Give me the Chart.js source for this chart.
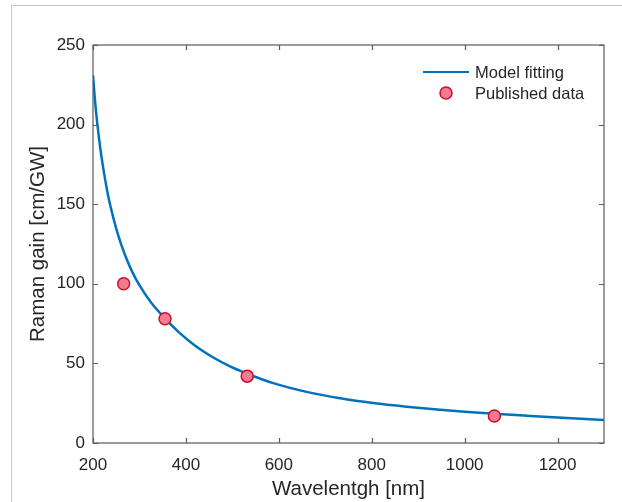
<!DOCTYPE html>
<html>
<head>
<meta charset="utf-8">
<script src="https://cdn.jsdelivr.net/npm/chart.js@4/dist/chart.umd.min.js"></script>
<style>
  html, body { margin: 0; padding: 0; background: #fff; }
  #wrap { position: relative; width: 622px; height: 502px; }
  #frame { position: absolute; left: 11px; top: 5px; right: 0; bottom: 0;
           border-left: 1px solid #c8c8c8; border-top: 1px solid #c8c8c8; }
  canvas { position: absolute; left: 0; top: 0; }
</style>
</head>
<body>
<div id="wrap">
  <div id="frame"></div>
  <canvas id="chart" width="622" height="502"></canvas>
</div>
<script>
// Model fitting curve
const fitWavelength = [200, 204, 209, 216, 224, 231, 238, 250, 261, 273, 285, 298, 325, 355, 387, 420,
                       459, 495, 532, 588, 660, 732, 803, 875, 947, 1000, 1064, 1130, 1200, 1260, 1300];
const fitGain = [231, 216.2, 201.2, 184.4, 169.2, 157.7, 148.2, 134.7, 124.5, 115.1, 107.2, 100.1, 88.2, 78.3, 69, 61.1,
                 53.7, 48.1, 43.5, 37.6, 32.1, 28.1, 25.1, 22.8, 20.9, 19.7, 18.4, 17.2, 16.0, 15.1, 14.5];

// Published data points
const pubWavelength = [266, 355, 532, 1064];
const pubGain = [100, 78, 42, 17];

const xTicks = [200, 400, 600, 800, 1000, 1200];
const yTicks = [0, 50, 100, 150, 200, 250];

const lineColor = '#0072BD';
const axisColor = '#5a5a5a';
const textColor = '#262626';
const fontFamily = '"Liberation Sans", Arial, Helvetica, sans-serif';

// box around the axes with inward ticks on all four sides + legend without frame
const boxPlugin = {
    id: 'matlabBox',
    afterDraw(chart) {
        const { ctx, chartArea: a, scales } = chart;
        ctx.save();
        ctx.strokeStyle = axisColor;
        ctx.lineWidth = 1.2;
        ctx.strokeRect(a.left, a.top, a.right - a.left, a.bottom - a.top);
        const tl = 5;
        ctx.beginPath();
        xTicks.forEach(v => {
            const px = Math.round(scales.x.getPixelForValue(v)) + 0.5;
            ctx.moveTo(px, a.bottom); ctx.lineTo(px, a.bottom - tl);
            ctx.moveTo(px, a.top); ctx.lineTo(px, a.top + tl);
        });
        yTicks.forEach(v => {
            const py = Math.round(scales.y.getPixelForValue(v)) + 0.5;
            ctx.moveTo(a.left, py); ctx.lineTo(a.left + tl, py);
            ctx.moveTo(a.right, py); ctx.lineTo(a.right - tl, py);
        });
        ctx.stroke();

        // legend
        const fit = chart.data.datasets[1];
        const pub = chart.data.datasets[0];
        const lx = a.right - 181, ly = a.top + 27;
        ctx.font = '16.5px ' + fontFamily;
        ctx.textBaseline = 'middle';
        ctx.fillStyle = textColor;
        ctx.strokeStyle = fit.borderColor;
        ctx.lineWidth = 2.2;
        ctx.beginPath();
        ctx.moveTo(lx, ly); ctx.lineTo(lx + 46, ly);
        ctx.stroke();
        ctx.fillText(fit.label, lx + 52, ly + 1);
        const my = ly + 21;
        ctx.beginPath();
        ctx.arc(lx + 23, my, pub.pointRadius, 0, Math.PI * 2);
        ctx.fillStyle = pub.backgroundColor;
        ctx.fill();
        ctx.lineWidth = pub.borderWidth;
        ctx.strokeStyle = pub.borderColor;
        ctx.stroke();
        ctx.fillStyle = textColor;
        ctx.fillText(pub.label, lx + 52, my + 1);
        ctx.restore();
    }
};

new Chart(document.getElementById('chart'), {
    type: 'scatter',
    data: {
        datasets: [{
            label: 'Published data',
            data: pubWavelength.map((x, i) => ({ x, y: pubGain[i] })),
            pointRadius: 6,
            backgroundColor: '#f47b8e',
            borderColor: '#c8102e',
            borderWidth: 1.5,
            order: 0,
        }, {
            label: 'Model fitting',
            data: fitWavelength.map((x, i) => ({ x, y: fitGain[i] })),
            showLine: true,
            pointRadius: 0,
            borderColor: lineColor,
            backgroundColor: lineColor,
            borderWidth: 2.5,
            cubicInterpolationMode: 'monotone',
            order: 1,
        }],
    },
    options: {
        responsive: false,
        animation: false,
        devicePixelRatio: 1,
        layout: { padding: { left: 0, top: 45, right: 18, bottom: 0 } },
        plugins: { legend: { display: false }, tooltip: { enabled: false } },
        scales: {
            x: {
                type: 'linear',
                min: 200, max: 1300,
                afterBuildTicks: s => { s.ticks = xTicks.map(v => ({ value: v })); },
                afterFit: s => { s.height = 59; },
                grid: { display: false, drawTicks: false },
                border: { display: false },
                ticks: { color: textColor, font: { family: fontFamily, size: 17 }, padding: 12, maxRotation: 0,
                         callback: v => String(v) },
                title: { display: true, text: 'Wavelentgh [nm]', color: textColor,
                         font: { family: fontFamily, size: 20.5 }, padding: { top: 0, bottom: 0 } },
            },
            y: {
                min: 0, max: 250,
                afterBuildTicks: s => { s.ticks = yTicks.map(v => ({ value: v })); },
                afterFit: s => { s.width = 93; },
                grid: { display: false, drawTicks: false },
                border: { display: false },
                ticks: { color: textColor, font: { family: fontFamily, size: 17 }, padding: 8,
                         callback: v => String(v) },
                title: { display: true, text: 'Raman gain [cm/GW]', color: textColor,
                         font: { family: fontFamily, size: 20.5 }, padding: { top: 26, bottom: 0 } },
            },
        },
    },
    plugins: [boxPlugin],
});
</script>
</body>
</html>
